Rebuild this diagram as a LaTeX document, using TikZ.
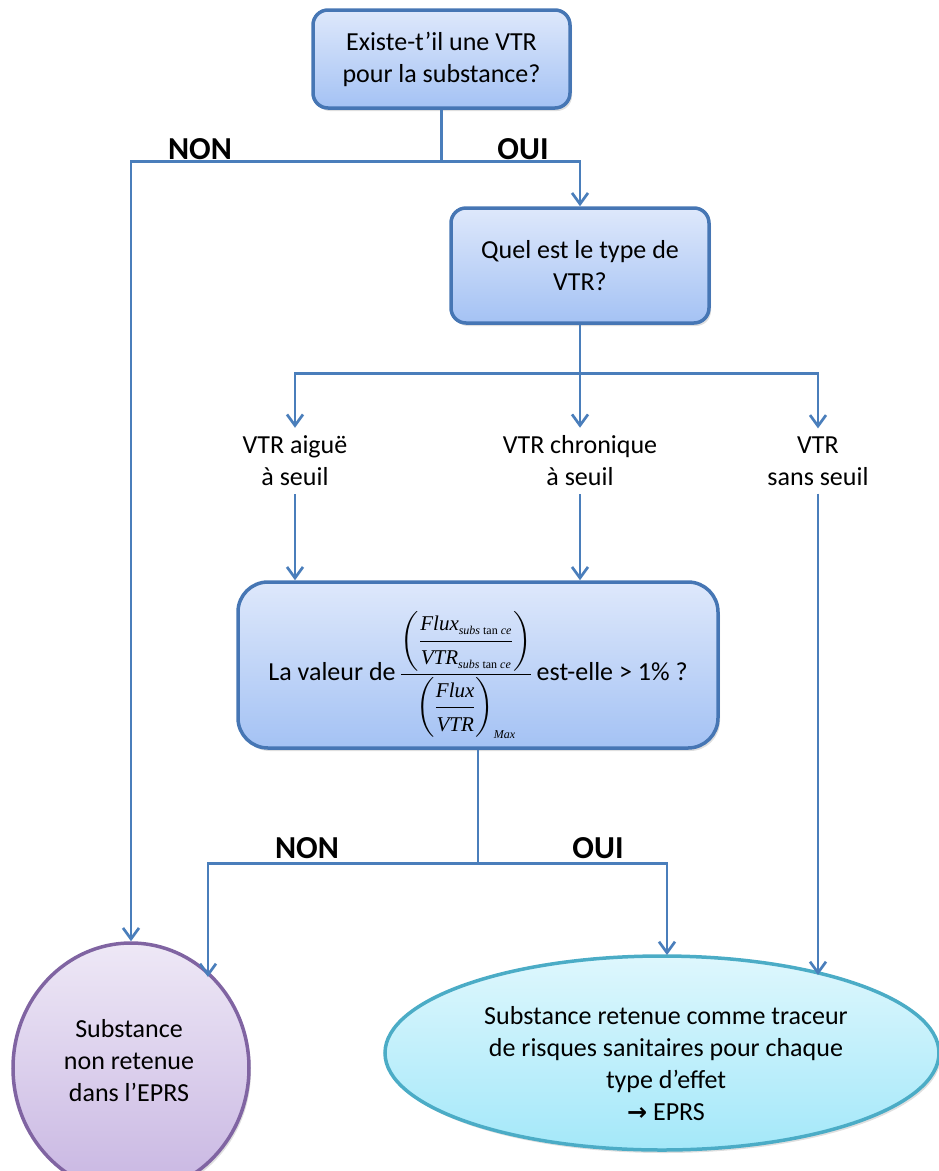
\documentclass[tikz,border=0pt]{standalone}
\usepackage{amsmath}
\usepackage{fontspec}
\setmainfont{Carlito}
\newfontfamily\tms{Liberation Serif}
\newfontfamily\djv{DejaVu Sans}
\usetikzlibrary{arrows.meta,shapes.geometric,shadows}
\definecolor{ln}{RGB}{74,126,187}
\definecolor{bxd}{RGB}{70,118,180}
\definecolor{bxt}{RGB}{222,232,251}
\definecolor{bxb}{RGB}{164,194,244}
\definecolor{pud}{RGB}{128,100,162}
\definecolor{put}{RGB}{238,232,246}
\definecolor{pub}{RGB}{200,182,226}
\definecolor{cyd}{RGB}{75,172,198}
\definecolor{cyt}{RGB}{222,247,253}
\definecolor{cyb}{RGB}{164,232,249}
\newcommand\fx[1]{\mbox{\tms\fontsize{21}{25}\selectfont\itshape #1}}
\newcommand\sx[1]{\mbox{\tms\fontsize{12}{12}\selectfont #1}}
\begin{document}
\begin{tikzpicture}[x=1pt,y=-1pt,
  txt/.style={font=\fontsize{26}{32}\selectfont, align=center, text=black},
  lab/.style={font=\fontsize{32}{36}\selectfont\bfseries, text=black, inner sep=0pt},
  box/.style={txt, draw=bxd, line width=3.5pt, top color=bxt, bottom color=bxb,
     drop shadow={opacity=0.25, shadow xshift=2pt, shadow yshift=-3pt}},
  conn/.style={draw=ln, line width=2.7pt},
  arr/.style={conn, -{Straight Barb[length=11pt,width=16pt]}},
  lbl/.style={txt, inner sep=8pt}]
\useasboundingbox (0,0) rectangle (939,1171);
\clip (0,0) rectangle (939,1171);

% boxes
\node[box, rounded corners=15pt, minimum width=257pt, minimum height=98pt] (q1) at (441.5,59) {Existe-t’il une VTR\\pour la substance?};
\node[box, rounded corners=15pt, minimum width=258pt, minimum height=115pt] (q2) at (580,265.5) {Quel est le type de\\VTR?};
\node[box, rounded corners=30pt, minimum width=480pt, minimum height=166pt] (q3) at (478,665) {};
\node[txt] (q3t) at (478,675) {La valeur de\hspace{4pt}%
 $\displaystyle\frac{\left(\dfrac{\fx{Flux}_{\sx{\itshape subs \upshape tan \itshape ce}}}{\fx{VTR}_{\sx{\itshape subs \upshape tan \itshape ce}}}\right)}{\left(\dfrac{\fx{Flux}}{\fx{VTR}}\right)_{\sx{\itshape Max}}}$%
 \hspace{4pt}est-elle > 1\% ?};

% type labels
\node[lbl] (a1) at (295,461) {VTR aiguë\\à seuil};
\node[lbl] (a2) at (580,461) {VTR chronique\\à seuil};
\node[lbl] (a3) at (818,461) {VTR\\sans seuil};

% final ellipses
\node[ellipse, draw=pud, line width=3.5pt, top color=put, bottom color=pub,
  minimum width=236pt, minimum height=250pt, inner sep=0pt,
  drop shadow={opacity=0.25, shadow xshift=2pt, shadow yshift=-3pt}] (np) at (131,1068) {};
\node[txt] (npt) at (129,1061) {Substance\\non retenue\\dans l’EPRS};
\node[ellipse, draw=cyd, line width=3.5pt, top color=cyt, bottom color=cyb,
  minimum width=554pt, minimum height=194pt, inner sep=0pt,
  drop shadow={opacity=0.25, shadow xshift=2pt, shadow yshift=-3pt}] (rt) at (662,1053) {};
\node[txt] (rtt) at (666,1064) {Substance retenue comme traceur\\de risques sanitaires pour chaque\\type d’effet\\{\djv\bfseries\fontsize{24}{32}\selectfont →} EPRS};

% decision labels
\node[lab] (non1) at (200,149) {NON};
\node[lab] (oui1) at (523,149) {OUI};
\node[lab] (non2) at (307,848) {NON};
\node[lab] (oui2) at (598,848) {OUI};

% junctions and ends
\path (q1.south) ++(0,52) coordinate (j1);
\path (q2.south) ++(0,49) coordinate (j2);
\path (q3.south) ++(0,114) coordinate (j3);
\coordinate (e1) at (208,977);
\coordinate (e2) at (667,955);
\coordinate (e3) at (818,975);

% connectors
\draw[conn] (q1.south) -- (j1);
\draw[arr] (j1) -| (np.north);
\draw[arr] (j1) -| (q2.north);
\draw[conn] (q2.south) -- (j2);
\draw[arr] (j2) -| (a1.north);
\draw[arr] (j2) -- (a2.north);
\draw[arr] (j2) -| (a3.north);
\draw[arr] (a1.south) -- (a1.south |- q3.north);
\draw[arr] (a2.south) -- (a2.south |- q3.north);
\draw[arr] (a3.south) -- (e3);
\draw[conn] (q3.south) -- (j3);
\draw[arr] (j3) -| (e1);
\draw[arr] (j3) -| (e2);
\end{tikzpicture}
\end{document}
